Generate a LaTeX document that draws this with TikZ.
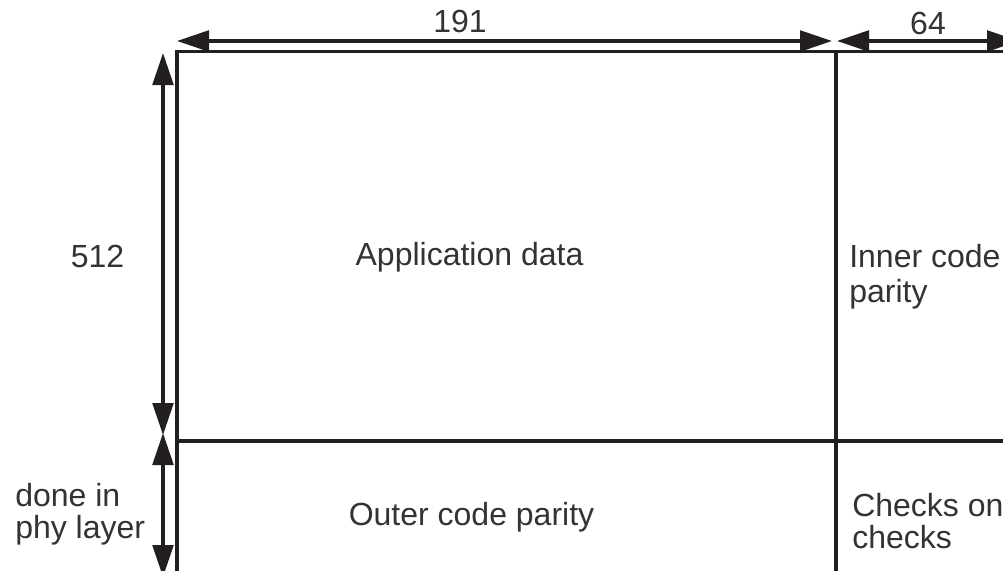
\documentclass[tikz,border=0pt]{standalone}
\usepackage{fontspec}
\setmainfont{Liberation Sans}
\usetikzlibrary{arrows.meta}
\definecolor{linecol}{HTML}{231F20}
\definecolor{txtcol}{HTML}{333333}
\begin{document}
\begin{tikzpicture}[x=0.75pt,y=-0.75pt,
  frame/.style={draw=linecol,line width=2.8pt},
  divider/.style={draw=linecol,line width=2.4pt},
  dimarrow/.style={draw=linecol,line width=2.6pt,{Triangle[length=24pt,width=15.5pt]}-{Triangle[length=24pt,width=15.5pt]}},
  lbl/.style={text=txtcol,font=\fontsize{24}{24}\selectfont,inner sep=0pt,anchor=base},
  lbll/.style={lbl,align=left,anchor=base west}]
\useasboundingbox (0,0) rectangle (1003,571);
\clip (0,0) rectangle (1003,571);
% frame coordinates
\coordinate (tl) at (177,51.5);
\coordinate (tr) at (1060,51.5);
\coordinate (bl) at (177,600);
\coordinate (midtop) at (836,51.5);
\coordinate (midbot) at (836,600);
\coordinate (hl) at (177,441);
\coordinate (hr) at (1060,441);
\draw[frame] (tr) -- (tl) -- (bl);
\draw[divider] (midtop) -- (midbot);
\draw[divider] (hl) -- (hr);
% dimension arrows
\coordinate (a1) at (177,41);
\coordinate (a2) at (832,41);
\coordinate (a3) at (837,41);
\coordinate (a4) at (1019,41);
\coordinate (v1) at (163,53);
\coordinate (v2) at (163,435);
\coordinate (v3) at (163,433);
\coordinate (v4) at (163,577);
\draw[dimarrow] (a1) -- (a2);
\draw[dimarrow] (a3) -- (a4);
\draw[dimarrow] (v1) -- (v2);
\draw[dimarrow] (v3) -- (v4);
% labels
\node[lbl] (n191) at (460,32) {191};
\node[lbl] (n64) at (928,34) {64};
\node[lbl] (n512) at (97.5,267) {512};
\node[lbl] (app) at (469.5,265) {Application data};
\node[lbl] (outer) at (471.5,525) {Outer code parity};
\node[lbll,font=\fontsize{24}{26}\selectfont] (inner) at (849,302) {Inner code\\parity};
\node[lbll,font=\fontsize{24}{24}\selectfont] (done) at (15,538) {done in\\phy layer};
\node[lbll,font=\fontsize{24}{23.4}\selectfont] (checks) at (852,548) {Checks on\\checks};
\end{tikzpicture}
\end{document}
